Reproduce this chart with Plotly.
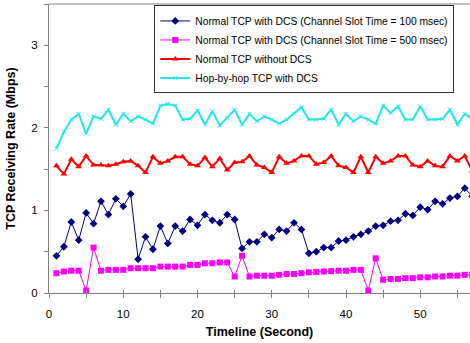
import plotly.graph_objects as go

time_s = list(range(1, 58))

dcs_100 = [0.45, 0.56, 0.86, 0.64, 0.97, 0.84, 1.11, 0.95, 1.14, 1.05,
           1.20, 0.41, 0.68, 0.53, 0.81, 0.60, 0.81, 0.75, 0.89, 0.82,
           0.95, 0.88, 0.85, 0.95, 0.89, 0.54, 0.62, 0.62, 0.71, 0.67,
           0.77, 0.75, 0.85, 0.77, 0.48, 0.50, 0.55, 0.55, 0.63, 0.64,
           0.68, 0.71, 0.75, 0.81, 0.82, 0.87, 0.88, 0.96, 0.94, 1.04,
           1.01, 1.11, 1.08, 1.15, 1.17, 1.27, 1.17]

dcs_500 = [0.24, 0.26, 0.27, 0.27, 0.03, 0.55, 0.27, 0.28, 0.28, 0.28,
           0.30, 0.30, 0.30, 0.30, 0.32, 0.32, 0.32, 0.32, 0.34, 0.34,
           0.36, 0.36, 0.37, 0.37, 0.20, 0.45, 0.20, 0.21, 0.21, 0.21,
           0.22, 0.23, 0.23, 0.24, 0.25, 0.255, 0.26, 0.265, 0.27, 0.27,
           0.28, 0.28, 0.03, 0.42, 0.16, 0.17, 0.17, 0.18, 0.18, 0.19,
           0.19, 0.20, 0.20, 0.21, 0.21, 0.22, 0.22]

no_dcs = [1.54, 1.44, 1.62, 1.53, 1.66, 1.55, 1.55, 1.54, 1.56, 1.59,
          1.60, 1.54, 1.46, 1.65, 1.57, 1.60, 1.65, 1.65, 1.56, 1.54,
          1.64, 1.53, 1.63, 1.49, 1.58, 1.59, 1.66, 1.55, 1.52, 1.46,
          1.65, 1.57, 1.60, 1.66, 1.66, 1.56, 1.58, 1.66, 1.54, 1.52,
          1.46, 1.65, 1.46, 1.65, 1.57, 1.60, 1.66, 1.66, 1.55, 1.53,
          1.60, 1.54, 1.53, 1.66, 1.60, 1.66, 1.48]

hop_dcs = [1.75, 1.95, 2.10, 2.17, 1.93, 2.14, 2.11, 2.22, 2.04, 2.17,
           2.08, 2.14, 2.10, 2.05, 2.27, 2.29, 2.27, 2.10, 2.11, 2.21,
           2.04, 2.20, 2.03, 2.12, 2.22, 2.04, 2.17, 2.08, 2.14, 2.10,
           2.05, 2.10, 2.17, 2.25, 2.10, 2.10, 2.11, 2.22, 2.04, 2.17,
           2.08, 2.14, 2.10, 2.05, 2.27, 2.18, 2.26, 2.10, 2.10, 2.26,
           2.10, 2.10, 2.11, 2.22, 2.04, 2.17, 2.11]

names = ["Normal TCP with DCS (Channel Slot Time = 100 msec)",
         "Normal TCP with DCS (Channel Slot Time = 500 msec)",
         "Normal TCP without DCS",
         "Hop-by-hop TCP with DCS"]

y_tick_vals = [0, 1, 2, 3]
x_tick_vals = [0, 10, 20, 30, 40, 50]

fig = go.Figure()
fig.add_trace(go.Scatter(x=time_s, y=dcs_100, name=names[0], mode="lines+markers",
                         line=dict(color="#000080", width=1),
                         marker=dict(symbol="diamond", size=6, color="#000080")))
fig.add_trace(go.Scatter(x=time_s, y=dcs_500, name=names[1], mode="lines+markers",
                         line=dict(color="#FF00FF", width=1),
                         marker=dict(symbol="square", size=6, color="#FF00FF")))
fig.add_trace(go.Scatter(x=time_s, y=no_dcs, name=names[2], mode="lines+markers",
                         line=dict(color="#FF0000", width=2),
                         marker=dict(symbol="triangle-up", size=6, color="#FF0000")))
fig.add_trace(go.Scatter(x=time_s, y=hop_dcs, name=names[3], mode="lines+markers",
                         line=dict(color="#22E8E8", width=2),
                         marker=dict(symbol="x-thin", size=4, color="#22E8E8",
                                     line=dict(color="#22E8E8", width=1))))

font_family = "Liberation Sans, Arial, sans-serif"

fig.update_layout(
    width=470, height=343,
    margin=dict(l=49, r=0, t=4, b=50, autoexpand=False),
    paper_bgcolor="white", plot_bgcolor="white",
    font=dict(family=font_family, size=11, color="black"),
    showlegend=True,
    legend=dict(x=0.25, y=0.995, xanchor="left", yanchor="top",
                bgcolor="white", bordercolor="#333333", borderwidth=1,
                font=dict(size=10.3, family=font_family, color="black"),
                itemwidth=30, tracegroupgap=0),
    xaxis=dict(range=[0, 56.7], tickvals=x_tick_vals, ticks="outside", ticklen=4,
               tickcolor="#808080", showline=True, linecolor="#808080", linewidth=1,
               mirror=False, showgrid=False, zeroline=False, automargin=False,
               minor=dict(dtick=5, tick0=0, ticks="outside", ticklen=4, tickcolor="#808080"),
               ticklabelstandoff=6,
               tickfont=dict(size=11.5),
               title=dict(text="<b>Timeline (Second)</b>", font=dict(size=12.5), standoff=8)),
    yaxis=dict(range=[0, 3.5], tickvals=y_tick_vals, ticks="outside", ticklen=4,
               tickcolor="#808080", showline=True, linecolor="#808080", linewidth=1,
               showgrid=False, zeroline=False, automargin=False,
               minor=dict(dtick=0.5, tick0=0, ticks="outside", ticklen=4, tickcolor="#808080"),
               ticklabelstandoff=4,
               tickfont=dict(size=11.5),
               title=dict(text="<b>TCP Receiving Rate (Mbps)</b>", font=dict(size=12.5), standoff=12)),
    xaxis2=dict(overlaying="x", matches="x", range=[0, 56.7], side="bottom",
                tickvals=x_tick_vals, ticks="inside", ticklen=3, tickcolor="#808080",
                showticklabels=False, showline=False, showgrid=False, zeroline=False,
                automargin=False,
                minor=dict(dtick=5, tick0=0, ticks="inside", ticklen=3, tickcolor="#808080")),
    shapes=[dict(type="line", xref="paper", yref="paper", x0=0, x1=1, y0=1, y1=1,
                 line=dict(color="#808080", width=1))],
)

# invisible trace to activate the overlay axis carrying inward tick halves
fig.add_trace(go.Scatter(x=[0], y=[0], xaxis="x2", mode="markers",
                         marker=dict(opacity=0), showlegend=False, hoverinfo="skip"))

fig.write_html("out.html",
               config={"displayModeBar": False},
               post_script="document.body.style.margin='0';document.body.style.padding='0';"
                           "document.body.style.overflow='hidden';")
